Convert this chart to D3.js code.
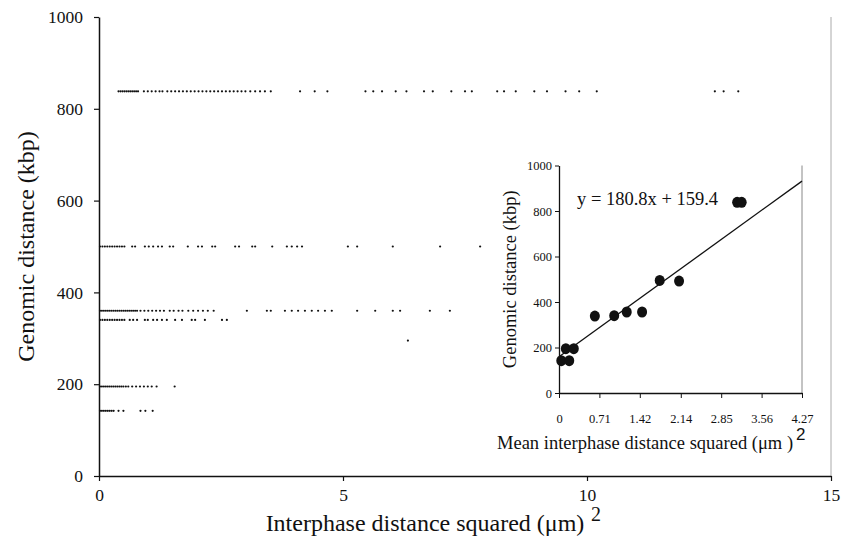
<!DOCTYPE html>
<html><head><meta charset="utf-8">
<script src="https://cdn.jsdelivr.net/npm/d3@7"></script>
<style>body{margin:0;background:#fff}svg{display:block}text{font-family:"Liberation Serif","Times New Roman",serif;fill:#111}</style>
</head><body><div id="chart"></div>
<script>
// ---- main chart data: genomic distance rows (kbp) and interphase distance squared (um^2)
const rowLevels = [838, 500, 360, 340, 195, 142];
const row838 = [0.40,0.44,0.48,0.52,0.56,0.60,0.64,0.68,0.72,0.76,0.80,0.92,1.00,1.08,1.16,1.24,1.30,1.40,1.48,1.56,1.64,1.72,1.80,1.88,1.96,2.04,2.12,2.20,2.28,2.36,2.44,2.52,2.60,2.68,2.76,2.84,2.92,3.00,3.10,3.20,3.30,3.40,3.52,4.12,4.42,4.68,5.46,5.62,5.80,6.08,6.30,6.66,6.84,7.22,7.50,7.64,8.16,8.30,8.54,8.92,9.18,9.56,9.84,10.20,12.62,12.80,13.10];
const row500 = [0.02,0.07,0.12,0.17,0.22,0.27,0.32,0.37,0.42,0.47,0.52,0.68,0.74,0.94,1.02,1.11,1.21,1.29,1.45,1.52,1.82,2.03,2.11,2.32,2.38,2.79,2.87,3.14,3.20,3.55,3.85,3.95,4.06,4.16,5.10,5.29,6.02,6.99,7.81];
const row360 = [0.02,0.06,0.10,0.14,0.18,0.22,0.26,0.30,0.34,0.38,0.42,0.46,0.50,0.54,0.58,0.62,0.66,0.70,0.74,0.78,0.85,0.93,1.01,1.09,1.17,1.25,1.33,1.45,1.53,1.63,1.71,1.83,1.93,2.03,2.13,2.23,2.35,3.03,3.44,3.52,3.81,3.95,4.08,4.22,4.36,4.49,4.63,4.77,5.29,5.66,6.02,6.17,6.78,7.19];
const row340 = [0.02,0.07,0.12,0.17,0.22,0.27,0.32,0.37,0.42,0.47,0.52,0.63,0.70,0.78,0.94,1.00,1.11,1.19,1.29,1.39,1.56,1.70,1.90,1.97,2.17,2.52,2.62];
const row195 = [0.02,0.06,0.10,0.14,0.18,0.22,0.26,0.30,0.34,0.38,0.42,0.46,0.50,0.55,0.60,0.68,0.76,0.84,0.92,1.00,1.08,1.18,1.55];
const row142 = [0.02,0.06,0.10,0.14,0.18,0.22,0.26,0.30,0.40,0.50,0.85,0.95,1.10];
const strayX = [6.33], strayY = [295];
const mainXTicks = [0, 5, 10, 15];
const mainYTicks = [0, 200, 400, 600, 800, 1000];

// ---- inset data: mean interphase distance squared vs genomic distance
const insetX = [0.04, 0.18, 0.12, 0.26, 0.63, 0.97, 1.19, 1.46, 1.77, 2.11, 3.13, 3.21];
const insetY = [142, 142, 195, 195, 338, 340, 356, 356, 495, 492, 838, 838];
const fitSlope = 180.8, fitIntercept = 159.4;
const insetXTicks = [0, 0.71, 1.42, 2.14, 2.85, 3.56, 4.27];
const insetXTickLabels = ["0", "0.71", "1.42", "2.14", "2.85", "3.56", "4.27"];
const insetYTicks = [0, 200, 400, 600, 800, 1000];

const W = 841, H = 544;
const svg = d3.select("#chart").append("svg").attr("width", W).attr("height", H);

// main scales
const x = d3.scaleLinear().domain([0, 15]).range([99, 831]);
const y = d3.scaleLinear().domain([0, 1000]).range([476, 17]);

// right frame line
svg.append("line").attr("x1", x(15)).attr("x2", x(15)).attr("y1", y(1000)).attr("y2", y(0))
  .attr("stroke", "#aaa").attr("stroke-width", 1);

// dots
const rows = [row838, row500, row360, row340, row195, row142];
const pts = [];
rows.forEach((r, i) => r.forEach(v => pts.push([v, rowLevels[i]])));
strayX.forEach((v, i) => pts.push([v, strayY[i]]));
svg.append("g").selectAll("circle").data(pts).join("circle")
  .attr("cx", d => x(d[0])).attr("cy", d => y(d[1])).attr("r", 1.1).attr("fill", "#111");

// axes
const xAxis = svg.append("g").attr("transform", `translate(0,${y(0)})`)
  .call(d3.axisBottom(x).tickValues(mainXTicks).tickSize(5).tickSizeOuter(0).tickFormat(d3.format("d")));
const yAxis = svg.append("g").attr("transform", `translate(${x(0)},0)`)
  .call(d3.axisLeft(y).tickValues(mainYTicks).tickSize(5).tickSizeOuter(0).tickFormat(d3.format("d")));
[xAxis, yAxis].forEach(a => {
  a.select(".domain").attr("stroke", "#111").attr("stroke-width", 1.5);
  a.selectAll(".tick line").attr("stroke", "#111").attr("stroke-width", 1.2);
  a.selectAll(".tick text").attr("font-family", "Liberation Serif, serif").attr("font-size", 17.5).attr("fill", "#111");
});
xAxis.selectAll(".tick text").attr("dy", "0.95em");
yAxis.selectAll(".tick text").attr("x", -16);

// main titles
svg.append("text").attr("transform", `translate(34,${(y(0)+y(1000))/2}) rotate(-90)`)
  .attr("text-anchor", "middle").attr("font-size", 24).text("Genomic distance  (kbp)");
svg.append("text").attr("x", 425).attr("y", 531).attr("text-anchor", "middle").attr("font-size", 24)
  .text("Interphase distance squared  (μm)");
svg.append("text").attr("x", 591).attr("y", 521).attr("font-family", "Liberation Sans, sans-serif")
  .attr("font-size", 20).text("2");

// ---- inset
svg.append("rect").attr("x", 494).attr("y", 152).attr("width", 336).attr("height", 305).attr("fill", "#fff");
const ix = d3.scaleLinear().domain([0, 4.27]).range([559, 802]);
const iy = d3.scaleLinear().domain([0, 1000]).range([393, 165.5]);

svg.append("line").attr("x1", ix(4.27)).attr("x2", ix(4.27)).attr("y1", iy(1000)).attr("y2", iy(0))
  .attr("stroke", "#888").attr("stroke-width", 1);

const ixAxis = svg.append("g").attr("transform", `translate(0,${iy(0)})`)
  .call(d3.axisBottom(ix).tickValues(insetXTicks).tickSize(5).tickSizeOuter(0)
    .tickFormat((d, i) => insetXTickLabels[i]));
const iyAxis = svg.append("g").attr("transform", `translate(${ix(0)},0)`)
  .call(d3.axisLeft(iy).tickValues(insetYTicks).tickSize(4).tickSizeOuter(0).tickFormat(d3.format("d")));
[ixAxis, iyAxis].forEach(a => {
  a.select(".domain").attr("stroke", "#111").attr("stroke-width", 1.3);
  a.selectAll(".tick line").attr("stroke", "#111");
  a.selectAll(".tick text").attr("font-family", "Liberation Serif, serif").attr("font-size", 12.5).attr("fill", "#111");
});
ixAxis.selectAll(".tick text").attr("y", 21);
iyAxis.selectAll(".tick text").attr("x", -7);

// fit line
const fx = [0, 4.27];
svg.append("line").attr("x1", ix(fx[0])).attr("y1", iy(fitIntercept + fitSlope * fx[0]))
  .attr("x2", ix(fx[1])).attr("y2", iy(fitIntercept + fitSlope * fx[1]))
  .attr("stroke", "#111").attr("stroke-width", 1.3);

// inset points
svg.append("g").selectAll("ellipse").data(insetX.map((v, i) => [v, insetY[i]])).join("ellipse")
  .attr("cx", d => ix(d[0])).attr("cy", d => iy(d[1])).attr("rx", 5).attr("ry", 5.5).attr("fill", "#111");

// inset texts
svg.append("text").attr("x", 577).attr("y", 205).attr("font-size", 18.5).text("y = 180.8x + 159.4");
svg.append("text").attr("transform", `translate(516,${(iy(0)+iy(1000))/2}) rotate(-90)`)
  .attr("text-anchor", "middle").attr("font-size", 18.5).text("Genomic distance  (kbp)");
const ixt = svg.append("text").attr("x", 497).attr("y", 449).attr("font-size", 18.5);
ixt.append("tspan").text("Mean interphase distance squared  (μm )");
ixt.append("tspan").attr("dx", 3).attr("dy", -9).attr("font-family", "Liberation Sans, sans-serif").attr("font-size", 17).text("2");
</script></body></html>
